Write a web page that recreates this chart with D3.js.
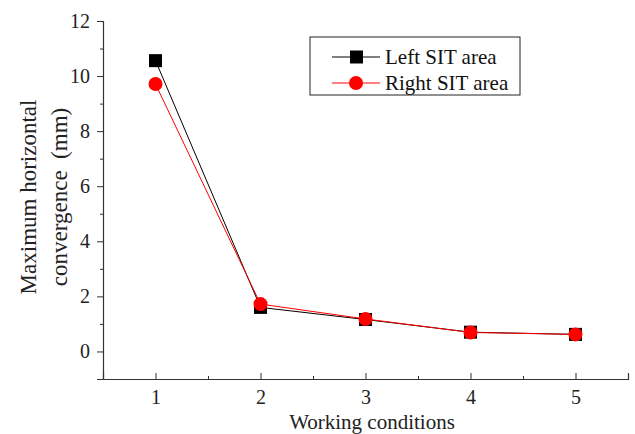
<!DOCTYPE html>
<html>
<head>
<meta charset="utf-8">
<script src="https://cdn.jsdelivr.net/npm/d3@7"></script>
<style>
  body { margin: 0; background: #fff; }
  svg { display: block; }
  svg text { font-family: "Liberation Serif", "Times New Roman", serif; }
</style>
</head>
<body>
<svg id="chart" width="635" height="434"></svg>
<script>
// working conditions and measured values (mm)
var conditions = [1, 2, 3, 4, 5];
var leftSIT = [10.56, 1.60, 1.16, 0.70, 0.62];
var rightSIT = [9.71, 1.72, 1.18, 0.69, 0.62];
var seriesNames = ["Left SIT area", "Right SIT area"];
var yTicks = [0, 2, 4, 6, 8, 10, 12];

var svg = d3.select("#chart");
var margin = {left: 103, right: 7, top: 21, bottom: 55};
var width = 635, height = 434;

var x = d3.scaleLinear().domain([0.5, 5.5]).range([margin.left, width - margin.right]);
var y = d3.scaleLinear().domain([-1, 12]).range([height - margin.bottom, margin.top]);

// y axis: outward ticks, minor ticks at odd values
var yAxis = svg.append("g").attr("transform", "translate(" + margin.left + ",0)");
yAxis.call(d3.axisLeft(y).tickValues(yTicks).tickSize(6).tickPadding(7).tickFormat(d3.format("d")));
yAxis.append("g").call(d3.axisLeft(y).tickValues([-1, 1, 3, 5, 7, 9, 11]).tickSize(3).tickFormat(""))
  .select(".domain").remove();

// x axis: inward ticks
var xAxis = svg.append("g").attr("transform", "translate(0," + y(-1) + ")");
xAxis.call(d3.axisBottom(x).tickValues(conditions).tickSize(-6).tickPadding(11).tickFormat(d3.format("d")));
xAxis.append("g").call(d3.axisBottom(x).tickValues([1.5, 2.5, 3.5, 4.5, 5.5]).tickSize(-3).tickFormat(""))
  .select(".domain").remove();

svg.selectAll(".domain").attr("stroke", "#333").attr("stroke-width", 1.2);
svg.selectAll(".tick line").attr("stroke", "#333");
svg.selectAll(".tick text").attr("font-size", 20).attr("fill", "#222");

// axis titles
svg.append("text").attr("x", 372).attr("y", 429).attr("text-anchor", "middle")
  .attr("font-size", 21).attr("fill", "#222").text("Working conditions");
var yt = svg.append("text").attr("transform", "translate(28,197) rotate(-90)")
  .attr("text-anchor", "middle").attr("font-size", 23).attr("fill", "#222");
yt.append("tspan").attr("x", 0).attr("dy", "0.35em").text("Maximum horizontal");
yt.append("tspan").attr("x", 0).attr("dy", "1.35em").attr("xml:space", "preserve").text("convergence  (mm)");

var line = d3.line().x(function(d, i) { return x(conditions[i]); }).y(function(d) { return y(d); });

// left series (black squares)
svg.append("path").datum(leftSIT).attr("d", line).attr("fill", "none").attr("stroke", "#000").attr("stroke-width", 1);
svg.selectAll(".sq").data(leftSIT).enter().append("rect").attr("class", "sq")
  .attr("x", function(d, i) { return x(conditions[i]) - 6.5; })
  .attr("y", function(d) { return y(d) - 6.5; })
  .attr("width", 13).attr("height", 13).attr("fill", "#000");

// right series (red circles)
svg.append("path").datum(rightSIT).attr("d", line).attr("fill", "none").attr("stroke", "#ff0000").attr("stroke-width", 1);
svg.selectAll(".dot").data(rightSIT).enter().append("circle").attr("class", "dot")
  .attr("cx", function(d, i) { return x(conditions[i]); })
  .attr("cy", function(d) { return y(d); })
  .attr("r", 7).attr("fill", "#ff0000");

// legend
var legend = svg.append("g").attr("transform", "translate(310,37)");
legend.append("rect").attr("width", 210).attr("height", 58).attr("fill", "#fff").attr("stroke", "#222").attr("stroke-width", 1);
var colors = ["#000", "#ff0000"];
seriesNames.forEach(function(name, i) {
  var row = legend.append("g").attr("transform", "translate(0," + (20 + i * 26) + ")");
  row.append("line").attr("x1", 22).attr("x2", 70).attr("stroke", colors[i]).attr("stroke-width", 1);
  if (i === 0) {
    row.append("rect").attr("x", 40).attr("y", -6.5).attr("width", 13).attr("height", 13).attr("fill", colors[i]);
  } else {
    row.append("circle").attr("cx", 46).attr("r", 7).attr("fill", colors[i]);
  }
  row.append("text").attr("x", 75).attr("dy", "0.35em").attr("font-size", 21).attr("fill", "#111").text(name);
});
</script>
</body>
</html>
